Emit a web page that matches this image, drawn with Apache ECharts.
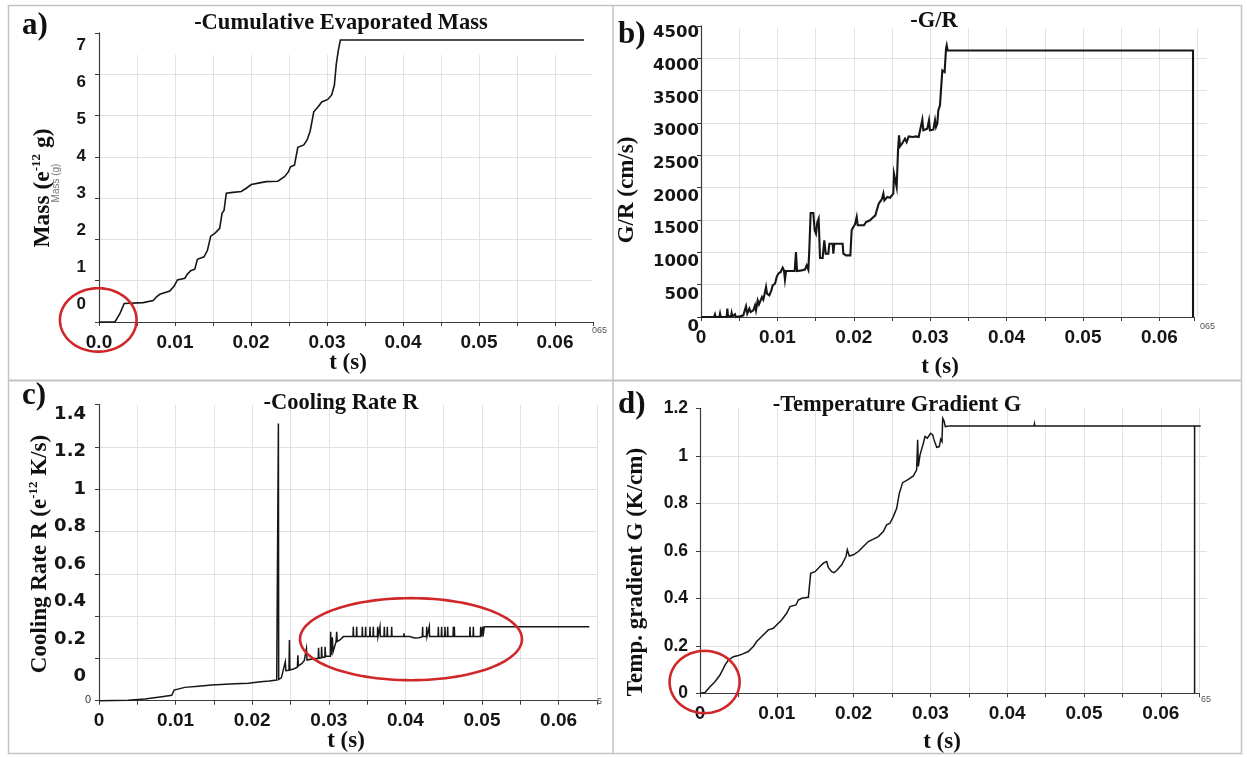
<!DOCTYPE html>
<html>
<head>
<meta charset="utf-8">
<script src="https://cdn.jsdelivr.net/npm/echarts@6/dist/echarts.min.js"></script>
<style>
  html, body { margin: 0; padding: 0; background: #ffffff; }
  #chart { width: 1247px; height: 757px; }
</style>
</head>
<body>
<div id="chart"></div>
<script>
// ---------------- tick labels ----------------
const xTickLabelsA = ['0.0', '0.01', '0.02', '0.03', '0.04', '0.05', '0.06'];
const xTickLabels  = ['0', '0.01', '0.02', '0.03', '0.04', '0.05', '0.06'];
const yTickLabelsA = ['0', '1', '2', '3', '4', '5', '6', '7'];
const yTickLabelsB = ['0', '500', '1000', '1500', '2000', '2500', '3000', '3500', '4000', '4500'];
const yTickLabelsC = ['0', '0.2', '0.4', '0.6', '0.8', '1', '1.2', '1.4'];
const yTickLabelsD = ['0', '0.2', '0.4', '0.6', '0.8', '1', '1.2'];

// ---------------- a) cumulative evaporated mass ----------------
const timeA = [0, 0.0021, 0.00276, 0.00332, 0.00582, 0.00713, 0.00757, 0.0080, 0.00932, 0.00989,
  0.01032, 0.01129, 0.01164, 0.01207, 0.0126, 0.01295, 0.01382, 0.01426, 0.0147, 0.01531,
  0.01588, 0.01619, 0.01645, 0.01675, 0.01763, 0.01872, 0.01938, 0.02004, 0.02113, 0.022,
  0.02353, 0.02441, 0.02493, 0.0252, 0.02572, 0.02616, 0.02695, 0.02738, 0.02778, 0.02826,
  0.02878, 0.02931, 0.0301, 0.03062, 0.03097, 0.03123, 0.0315, 0.03176, 0.0638];
const massA = [0, 0, 0.21, 0.45, 0.47, 0.52, 0.61, 0.67, 0.75, 0.87,
  1.02, 1.06, 1.16, 1.24, 1.28, 1.52, 1.58, 1.73, 2.08, 2.16,
  2.27, 2.63, 2.70, 3.12, 3.14, 3.16, 3.24, 3.33, 3.37, 3.40,
  3.41, 3.52, 3.64, 3.76, 3.80, 4.23, 4.29, 4.41, 4.62, 5.09,
  5.20, 5.33, 5.39, 5.50, 5.74, 6.26, 6.59, 6.83, 6.83];

// ---------------- b) G/R ----------------
const timeB = [0, 0.0017, 0.00183, 0.00192, 0.0024, 0.00249, 0.00257, 0.00336, 0.00345, 0.00353,
  0.00393, 0.00401, 0.0041, 0.00436, 0.00445, 0.00454, 0.0051, 0.00554, 0.00576, 0.00589,
  0.00606, 0.00633, 0.0065, 0.00685, 0.00707, 0.0072, 0.00742, 0.00759, 0.00781, 0.00798,
  0.00816, 0.00833, 0.00851, 0.00864, 0.00894, 0.00921, 0.00938, 0.00969, 0.0099, 0.01012,
  0.01043, 0.01069, 0.01086, 0.01099, 0.01113, 0.01165, 0.01226, 0.01243, 0.01257, 0.01318,
  0.01339, 0.01361, 0.01383, 0.01405, 0.01418, 0.01435, 0.0147, 0.01488, 0.01505, 0.01523,
  0.0154, 0.01558, 0.01592, 0.01614, 0.01632, 0.01667, 0.0168, 0.01723, 0.01732, 0.01745,
  0.01854, 0.01863, 0.01898, 0.01955, 0.01972, 0.01994, 0.02016, 0.02038, 0.02051, 0.02103,
  0.02134, 0.0216, 0.02212, 0.02247, 0.02282, 0.02308, 0.02326, 0.02352, 0.02369, 0.02387,
  0.024, 0.02439, 0.02474, 0.025, 0.02517, 0.02526, 0.02544, 0.02561, 0.02579, 0.02592,
  0.02605, 0.02631, 0.02648, 0.0267, 0.02692, 0.02718, 0.02744, 0.0277, 0.02814, 0.02849,
  0.02866, 0.02897, 0.0291, 0.02962, 0.02984, 0.02997, 0.03041, 0.03063, 0.03076, 0.03093,
  0.03106, 0.03128, 0.03141, 0.03159, 0.03189, 0.03207, 0.03216, 0.03229, 0.0644, 0.0644];
const ratioB = [0, 0, 41, 0, 0, 52, 0, 0, 129, 10,
  10, 62, 10, 10, 41, 0, 10, 26, 52, 165,
  52, 129, 77, 103, 180, 103, 258, 196, 206, 309,
  268, 361, 464, 361, 335, 412, 489, 515, 618, 670,
  696, 762, 721, 577, 711, 711, 711, 1005, 711, 721,
  747, 732, 799, 732, 1056, 1607, 1607, 1340, 1288, 1468,
  1520, 912, 912, 1185, 979, 979, 1133, 1133, 979, 1133,
  1133, 979, 953, 953, 1340, 1391, 1432, 1546, 1417, 1417,
  1417, 1468, 1494, 1535, 1571, 1597, 1752, 1793, 1829, 1906,
  1803, 1855, 1844, 1855, 1906, 2215, 2215, 2009, 2576, 2808,
  2638, 2679, 2689, 2756, 2705, 2792, 2772, 2782, 2792, 2782,
  2792, 3050, 2885, 2911, 3040, 2885, 2895, 3040, 2937, 2988,
  3194, 3272, 3503, 3812, 3787, 4147, 4199, 4120, 4120, 0];

// ---------------- c) cooling rate R ----------------
const timeC = [0, 0.0038, 0.0060, 0.0082, 0.0095, 0.0098, 0.0100, 0.0112, 0.0130, 0.0147,
  0.0165, 0.0178, 0.0195, 0.0208, 0.0222, 0.0232, 0.02338, 0.02342, 0.02346, 0.0238,
  0.02395, 0.0242, 0.02432, 0.0244, 0.0248, 0.02486, 0.02492, 0.0254, 0.0259, 0.02596,
  0.02603, 0.0265, 0.0268, 0.02708, 0.02716, 0.0282, 0.02862, 0.02866, 0.02872, 0.02902,
  0.02906, 0.02912, 0.02948, 0.02952, 0.02958, 0.0302, 0.03024, 0.0303, 0.03042, 0.03046,
  0.03055, 0.03095, 0.03103, 0.0311, 0.03146, 0.0319,
  0.03316, 0.0332, 0.03324, 0.0336, 0.03364, 0.03368, 0.03434, 0.03438, 0.03442,
  0.03477, 0.03481, 0.03485, 0.03534, 0.03538, 0.03542, 0.03577, 0.03581, 0.03585,
  0.03634, 0.03638, 0.03642, 0.03664, 0.03668, 0.03672, 0.03721, 0.03725, 0.03729,
  0.0376, 0.03764, 0.03768, 0.03817, 0.03821, 0.03825, 0.03978, 0.03982, 0.03986,
  0.04056, 0.0406, 0.04064, 0.0412, 0.0418, 0.04221, 0.04225, 0.04229, 0.04274, 0.04278, 0.04282,
  0.04308, 0.04312, 0.04316, 0.04426, 0.0443, 0.04434, 0.04469, 0.04473, 0.04477,
  0.04513, 0.04517, 0.04521, 0.04548, 0.04552, 0.04556, 0.04622, 0.04626, 0.0463, 0.04635,
  0.04639, 0.04643, 0.04839, 0.04843, 0.04847, 0.04883, 0.04887, 0.04891, 0.04979, 0.04983,
  0.04987, 0.05005, 0.05009, 0.05013, 0.0502, 0.0503, 0.0640];
const rateC = [0, 0.002, 0.008, 0.019, 0.026, 0.05, 0.058, 0.063, 0.068, 0.074,
  0.078, 0.080, 0.082, 0.088, 0.093, 0.098, 0.101, 1.311, 0.101, 0.108,
  0.129, 0.135, 0.184, 0.142, 0.144, 0.287, 0.145, 0.150, 0.158, 0.215,
  0.165, 0.176, 0.19, 0.247, 0.192, 0.2, 0.2, 0.25, 0.2, 0.202,
  0.255, 0.205, 0.205, 0.255, 0.21, 0.21, 0.326, 0.215, 0.216, 0.3,
  0.23, 0.279, 0.326, 0.28, 0.287, 0.303,
  0.303, 0.35, 0.303, 0.303, 0.35, 0.303, 0.303, 0.35, 0.303,
  0.303, 0.35, 0.303, 0.303, 0.35, 0.303, 0.303, 0.35, 0.303,
  0.303, 0.35, 0.303, 0.303, 0.35, 0.303, 0.303, 0.35, 0.303,
  0.303, 0.35, 0.303, 0.303, 0.35, 0.303, 0.303, 0.318, 0.303,
  0.303, 0.311, 0.303, 0.297, 0.298, 0.303, 0.35, 0.303, 0.303, 0.35, 0.303,
  0.303, 0.35, 0.303, 0.303, 0.35, 0.303, 0.303, 0.35, 0.303,
  0.303, 0.35, 0.303, 0.303, 0.35, 0.303, 0.303, 0.35, 0.303, 0.303,
  0.35, 0.303, 0.303, 0.35, 0.303, 0.303, 0.35, 0.303, 0.303, 0.35,
  0.303, 0.303, 0.35, 0.303, 0.303, 0.35, 0.35];

// ---------------- d) temperature gradient G ----------------
const timeD = [0, 0.00065, 0.0013, 0.00195, 0.0026, 0.00326, 0.00369, 0.00434, 0.00499, 0.00543,
  0.00564, 0.00629, 0.00694, 0.00738, 0.00803, 0.0089, 0.00955, 0.01007, 0.01063, 0.01128,
  0.01172, 0.0125, 0.0128, 0.01324, 0.01367, 0.01411, 0.01441, 0.01497, 0.01563, 0.01584,
  0.01606, 0.01649, 0.01671, 0.01714, 0.01745, 0.0178, 0.01845, 0.01901, 0.01918, 0.01944,
  0.01997, 0.02062, 0.02127, 0.02192, 0.02257, 0.02322, 0.02387, 0.0243, 0.02474, 0.02517,
  0.02561, 0.02595, 0.02639, 0.02713, 0.02778, 0.02821, 0.02834, 0.02843, 0.02865, 0.02908,
  0.0293, 0.0296, 0.03003, 0.0303, 0.03047, 0.03082, 0.03116, 0.03134, 0.03151, 0.0316,
  0.03177, 0.03194, 0.03212, 0.03255, 0.0435, 0.04355, 0.0436, 0.0652, 0.0644, 0.0644];
const gradD = [0, 0.003, 0.028, 0.049, 0.077, 0.119, 0.14, 0.154, 0.159, 0.164,
  0.156, 0.176, 0.197, 0.218, 0.239, 0.267, 0.274, 0.291, 0.309, 0.337,
  0.365, 0.372, 0.393, 0.4, 0.402, 0.404, 0.505, 0.512, 0.534, 0.527,
  0.548, 0.555, 0.53, 0.512, 0.508, 0.517, 0.541, 0.576, 0.604, 0.578,
  0.583, 0.597, 0.618, 0.639, 0.649, 0.66, 0.681, 0.709, 0.716, 0.744,
  0.779, 0.842, 0.887, 0.901, 0.915, 0.941, 1.067, 0.955, 1.004, 1.053,
  1.081, 1.074, 1.095, 1.088, 1.067, 1.036, 1.039, 1.07, 1.06, 1.158,
  1.148, 1.123, 1.126, 1.126, 1.126, 1.135, 1.126, 1.126, 1.126, 0];

// ---------------- styling ----------------
const SANS = '"Liberation Sans", Arial, Helvetica, sans-serif';
const WIDE = '"DejaVu Sans", Verdana, sans-serif';
const SERIF = '"Liberation Serif", "Times New Roman", Times, serif';
const INK = '#161616';
const AXIS = '#3c3c3c';
const GRID_LINE = '#e2e2e2';
const RED = '#d0282a';

// Pixel geometry of each panel: origin, pixels per unit, extents of the
// light background grid and where the overlaid tick labels sit.
const panels = [
  { left: 99, base: 322, pxX: 7600, xMax: 0.065, yMax: 7, yStep: 1, pxY: 41.29,
    bgTop: 55, bgRight: 592.5, xLabels: xTickLabelsA, lineWidth: 1.6,
    lab: { top: 45, bottom: 341, min: -1, max: 7, step: 1, labels: yTickLabelsA, font: SANS, size: 17, margin: 13 },
    series: [timeA, massA] },
  { left: 701, base: 317, pxX: 7640, xMax: 0.0645, yMax: 4500, yStep: 500, pxY: 0.0647,
    bgTop: 28, bgRight: 1207, xLabels: xTickLabels, lineWidth: 2.1,
    lab: { top: 33, bottom: 327, min: 0, max: 4500, step: 500, labels: yTickLabelsB, font: WIDE, size: 16.5, margin: 2 },
    series: [timeB, ratioB] },
  { left: 99, base: 700.7, pxX: 7660, xMax: 0.065, yMax: 1.4, yStep: 0.2, pxY: 211.5,
    bgTop: 405, bgRight: 597, xLabels: xTickLabels, lineWidth: 1.5,
    lab: { top: 414, bottom: 714, min: -0.2, max: 1.4, step: 0.2, labels: yTickLabelsC, font: WIDE, size: 18, margin: 13 },
    series: [timeC, rateC] },
  { left: 700, base: 693.3, pxX: 7680, xMax: 0.065, yMax: 1.2, yStep: 0.2, pxY: 237.5,
    bgTop: 408.3, bgRight: 1207, xLabels: xTickLabels, lineWidth: 1.5,
    lab: { top: 408.3, bottom: 693.3, min: 0, max: 1.2, step: 0.2, labels: yTickLabelsD, font: SANS, size: 17.5, margin: 12 },
    series: [timeD, gradD] }
];

function pickLabel(labels, v, min, step) {
  const i = Math.round((v - min) / step);
  if (Math.abs(v - (min + i * step)) > step * 1e-4) return '';
  return labels[i] !== undefined ? labels[i] : '';
}

const grid = [], xAxis = [], yAxis = [], series = [];
panels.forEach((p, k) => {
  const dataTop = p.base - p.yMax * p.pxY;
  // background grid (light split lines only)
  grid.push({ left: p.left, top: p.bgTop, width: p.bgRight - p.left, height: p.base - p.bgTop });
  // data grid (axis lines, ticks, x labels, the curve)
  grid.push({ left: p.left, top: dataTop, width: p.xMax * p.pxX, height: p.yMax * p.pxY });
  // tick-label grid for the y values
  grid.push({ left: p.left, top: p.lab.top, width: 10, height: p.lab.bottom - p.lab.top });

  const g0 = 3 * k;
  xAxis.push({
    gridIndex: g0, type: 'value', min: 0, max: (p.bgRight - p.left) / p.pxX, interval: 0.005,
    axisLine: { show: false }, axisTick: { show: false }, axisLabel: { show: false },
    splitLine: { show: true, showMinLine: false, showMaxLine: false, lineStyle: { color: GRID_LINE, width: 1 } }
  });
  yAxis.push({
    gridIndex: g0, type: 'value', min: 0, max: (p.base - p.bgTop) / p.pxY, interval: p.yStep,
    axisLine: { show: false }, axisTick: { show: false }, axisLabel: { show: false },
    splitLine: { show: true, showMinLine: false, showMaxLine: false, lineStyle: { color: GRID_LINE, width: 1 } }
  });

  xAxis.push({
    gridIndex: g0 + 1, type: 'value', min: 0, max: p.xMax, interval: 0.005,
    axisLine: { show: true, onZero: false, lineStyle: { color: AXIS, width: 1.2 } },
    axisTick: { show: true, inside: false, length: 4, lineStyle: { color: AXIS, width: 1 } },
    axisLabel: {
      show: true, margin: 11, showMinLabel: true, showMaxLabel: true,
      fontFamily: SANS, fontWeight: 'bold', fontSize: 19, color: INK,
      formatter: v => pickLabel(p.xLabels, v, 0, 0.01)
    },
    splitLine: { show: false }
  });
  yAxis.push({
    gridIndex: g0 + 1, type: 'value', min: 0, max: p.yMax, interval: p.yStep,
    axisLine: { show: true, onZero: false, lineStyle: { color: AXIS, width: 1.2 } },
    axisTick: { show: true, inside: false, length: 4, lineStyle: { color: AXIS, width: 1 } },
    axisLabel: { show: false },
    splitLine: { show: false }
  });

  xAxis.push({ gridIndex: g0 + 2, type: 'value', min: 0, max: 1, show: false });
  yAxis.push({
    gridIndex: g0 + 2, type: 'value', min: p.lab.min, max: p.lab.max, interval: p.lab.step,
    axisLine: { show: false }, axisTick: { show: false }, splitLine: { show: false },
    axisLabel: {
      show: true, margin: p.lab.margin, showMinLabel: true, showMaxLabel: true,
      fontFamily: p.lab.font, fontWeight: 'bold', fontSize: p.lab.size, color: INK,
      formatter: v => pickLabel(p.lab.labels, v, 0, p.lab.step)
    }
  });

  const [tt, vv] = p.series;
  series.push({
    type: 'line', xAxisIndex: g0 + 1, yAxisIndex: g0 + 1,
    data: tt.map((t, i) => [t, vv[i]]),
    symbol: 'none', showSymbol: false, clip: false, silent: true,
    lineStyle: { color: INK, width: p.lineWidth, join: 'miter' }
  });
});

const chart = echarts.init(document.getElementById('chart'), null, { renderer: 'canvas' });
chart.setOption({ animation: false, backgroundColor: '#ffffff', grid, xAxis, yAxis, series });

// ---------------- annotations ----------------
const serifBold = size => ({ fontFamily: SERIF, fontWeight: 'bold', fontSize: size, fill: '#111' });

function text(x, y, str, size, extra) {
  return Object.assign({ type: 'text', x, y, silent: true,
    style: Object.assign({ text: str, align: 'center', verticalAlign: 'middle' }, serifBold(size)) }, extra || {});
}
function letter(x, y, str) {
  return { type: 'text', x, y, silent: true,
    style: Object.assign({ text: str, align: 'left', verticalAlign: 'middle' }, serifBold(31)) };
}

function supLabel(x, y, parts, size) {
  // rotated axis title with a superscript exponent
  return {
    type: 'text', x, y, rotation: Math.PI / 2, silent: true,
    style: {
      text: parts, align: 'center', verticalAlign: 'middle',
      rich: {
        m: { fontFamily: SERIF, fontWeight: 'bold', fontSize: size, lineHeight: size + 2, fill: '#111' },
        s: { fontFamily: SERIF, fontWeight: 'bold', fontSize: Math.round(size * 0.55), lineHeight: Math.round(size * 0.6), verticalAlign: 'top', fill: '#111' }
      }
    }
  };
}

function line(x1, y1, x2, y2, color, w) {
  return { type: 'line', silent: true, shape: { x1, y1, x2, y2 }, style: { stroke: color, lineWidth: w } };
}

// ellipses given in data space: centre (t, v) and half-axes (dt, dv)
const rings = [
  { grid: 1, t: -0.0001, v: 0.05, dt: 0.00504, dv: 0.768 },
  { grid: 7, t: 0.04073, v: 0.291, dt: 0.01449, dv: 0.194 },
  { grid: 10, t: 0.0006, v: 0.0476, dt: 0.00456, dv: 0.131 }
];
function ring(r) {
  const c = chart.convertToPixel({ gridIndex: r.grid }, [r.t, r.v]);
  const e = chart.convertToPixel({ gridIndex: r.grid }, [r.t + r.dt, r.v + r.dv]);
  const rx = Math.abs(e[0] - c[0]), ry = Math.abs(c[1] - e[1]);
  const pts = [];
  for (let i = 0; i < 120; i++) {
    const a = (i / 120) * Math.PI * 2;
    pts.push([c[0] + rx * Math.cos(a), c[1] + ry * Math.sin(a)]);
  }
  return { type: 'polygon', silent: true, z: 100, shape: { points: pts },
    style: { fill: 'none', stroke: RED, lineWidth: 2.6 } };
}

const graphic = [
  // frame and panel dividers
  { type: 'rect', silent: true, shape: { x: 8.5, y: 5.5, width: 1233, height: 748 },
    style: { fill: 'none', stroke: '#c4c4c4', lineWidth: 1.5 } },
  line(613, 5, 613, 754, '#c4c4c4', 1.5),
  line(8, 380.5, 1242, 380.5, '#c4c4c4', 2),

  // panel letters
  letter(22, 26, 'a)'),
  letter(618, 35, 'b)'),
  letter(22, 396, 'c)'),
  letter(618, 405, 'd)'),

  // panel titles
  text(341, 23, '-Cumulative Evaporated Mass', 22.5),
  text(934, 21, '-G/R', 22.5),
  text(341, 403, '-Cooling Rate R', 22.5),
  text(897, 405, '-Temperature Gradient G', 22.5),

  // x-axis names
  text(348, 363, 't (s)', 23),
  text(940, 367, 't (s)', 23),
  text(346, 741, 't (s)', 23),
  text(942, 742, 't (s)', 23),

  // y-axis names
  supLabel(43, 188, '{m|Mass (e}{s|-12}{m| g)}', 23.5),
  text(627, 190, 'G/R (cm/s)', 23, { rotation: Math.PI / 2 }),
  supLabel(40, 554, '{m|Cooling Rate R (e}{s|-12}{m| K/s)}', 23),
  text(636, 572, 'Temp. gradient G (K/cm)', 23, { rotation: Math.PI / 2 }),

  // faint leftovers of the plotting tool's own labels
  { type: 'text', x: 56, y: 183, rotation: Math.PI / 2, silent: true,
    style: { text: 'Mass (g)', align: 'center', verticalAlign: 'middle', fontFamily: SANS, fontSize: 10, fill: '#777' } },
  { type: 'text', x: 592, y: 326, silent: true, style: { text: '065', fontFamily: SANS, fontSize: 9, fill: '#555' } },
  { type: 'text', x: 1200, y: 322, silent: true, style: { text: '065', fontFamily: SANS, fontSize: 9, fill: '#555' } },
  { type: 'text', x: 597, y: 697, silent: true, style: { text: '5', fontFamily: SANS, fontSize: 9, fill: '#555' } },
  { type: 'text', x: 1201, y: 695, silent: true, style: { text: '65', fontFamily: SANS, fontSize: 9, fill: '#555' } },
  { type: 'text', x: 88, y: 700, silent: true,
    style: { text: '0', align: 'center', verticalAlign: 'middle', fontFamily: SANS, fontSize: 11, fill: '#333' } }
].concat(rings.map(ring));

chart.setOption({ graphic });
</script>
</body>
</html>
